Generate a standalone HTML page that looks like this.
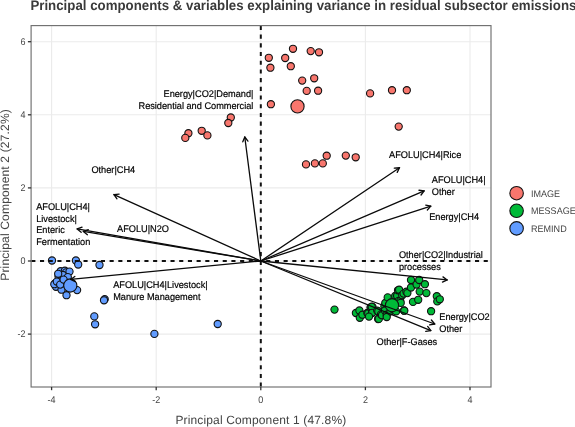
<!DOCTYPE html><html><head><meta charset="utf-8"><style>
html,body{margin:0;padding:0;background:#fff;}
body{width:575px;height:427px;overflow:hidden;font-family:"Liberation Sans",sans-serif;}
svg{display:block;text-rendering:geometricPrecision;will-change:transform;}
</style></head><body>
<svg width="575" height="427" viewBox="0 0 575 427" font-family="Liberation Sans, sans-serif">
<rect x="0" y="0" width="575" height="427" fill="#fff"/>
<g stroke="#ebebeb" stroke-width="1.1" fill="none">
<line x1="51.6" y1="25.6" x2="51.6" y2="387.0"/>
<line x1="156.2" y1="25.6" x2="156.2" y2="387.0"/>
<line x1="365.4" y1="25.6" x2="365.4" y2="387.0"/>
<line x1="470.0" y1="25.6" x2="470.0" y2="387.0"/>
<line x1="31.1" y1="41.7" x2="491.0" y2="41.7"/>
<line x1="31.1" y1="114.8" x2="491.0" y2="114.8"/>
<line x1="31.1" y1="187.9" x2="491.0" y2="187.9"/>
<line x1="31.1" y1="334.1" x2="491.0" y2="334.1"/>
<line x1="260.8" y1="25.6" x2="260.8" y2="387.0"/>
<line x1="31.1" y1="261.0" x2="491.0" y2="261.0"/>
</g>
<g fill="#619CFF" stroke="#111" stroke-width="1.1"><circle cx="52.0" cy="260.5" r="3.6" fill="#619CFF"/><circle cx="75.9" cy="260.5" r="3.6" fill="#619CFF"/><circle cx="78.2" cy="264.5" r="3.6" fill="#619CFF"/><circle cx="99.5" cy="265.0" r="3.6" fill="#619CFF"/><circle cx="60.6" cy="271.2" r="3.6" fill="#619CFF"/><circle cx="64.9" cy="270.7" r="3.6" fill="#619CFF"/><circle cx="66.1" cy="272.4" r="3.6" fill="#619CFF"/><circle cx="69.5" cy="271.6" r="3.6" fill="#619CFF"/><circle cx="58.5" cy="276.2" r="3.6" fill="#619CFF"/><circle cx="62.8" cy="275.0" r="3.6" fill="#619CFF"/><circle cx="67.8" cy="277.1" r="3.6" fill="#619CFF"/><circle cx="55.6" cy="283.0" r="3.6" fill="#619CFF"/><circle cx="56.0" cy="286.8" r="3.6" fill="#619CFF"/><circle cx="61.5" cy="289.7" r="3.6" fill="#619CFF"/><circle cx="66.5" cy="295.2" r="3.6" fill="#619CFF"/><circle cx="77.1" cy="290.1" r="3.6" fill="#619CFF"/><circle cx="61.1" cy="281.3" r="3.6" fill="#619CFF"/><circle cx="54.3" cy="284.2" r="3.6" fill="#619CFF"/><circle cx="56.8" cy="281.6" r="3.6" fill="#619CFF"/><circle cx="60.2" cy="284.6" r="3.6" fill="#619CFF"/><circle cx="63.6" cy="279.6" r="3.6" fill="#619CFF"/><circle cx="58.2" cy="273.8" r="3.6" fill="#619CFF"/><circle cx="104.7" cy="299.2" r="3.6" fill="#619CFF"/><circle cx="104.0" cy="300.3" r="3.6" fill="#619CFF"/><circle cx="94.3" cy="316.4" r="3.6" fill="#619CFF"/><circle cx="95.1" cy="324.3" r="3.6" fill="#619CFF"/><circle cx="154.4" cy="333.9" r="3.6" fill="#619CFF"/><circle cx="217.7" cy="324.0" r="3.6" fill="#619CFF"/></g>
<g fill="#619CFF" stroke="#111" stroke-width="1.1"><circle cx="70.3" cy="285.5" r="6.6" fill="#619CFF"/></g>
<g fill="#F8766D" stroke="#111" stroke-width="1.1"><circle cx="293.0" cy="48.8" r="3.6" fill="#F8766D"/><circle cx="310.7" cy="51.1" r="3.6" fill="#F8766D"/><circle cx="319.0" cy="52.3" r="3.6" fill="#F8766D"/><circle cx="268.8" cy="57.8" r="3.6" fill="#F8766D"/><circle cx="285.2" cy="58.0" r="3.6" fill="#F8766D"/><circle cx="270.4" cy="67.7" r="3.6" fill="#F8766D"/><circle cx="290.8" cy="66.2" r="3.6" fill="#F8766D"/><circle cx="302.2" cy="80.6" r="3.6" fill="#F8766D"/><circle cx="314.2" cy="78.3" r="3.6" fill="#F8766D"/><circle cx="306.7" cy="90.9" r="3.6" fill="#F8766D"/><circle cx="318.1" cy="90.7" r="3.6" fill="#F8766D"/><circle cx="270.9" cy="104.2" r="3.6" fill="#F8766D"/><circle cx="370.1" cy="93.4" r="3.6" fill="#F8766D"/><circle cx="392.0" cy="90.2" r="3.6" fill="#F8766D"/><circle cx="406.8" cy="90.2" r="3.6" fill="#F8766D"/><circle cx="398.7" cy="126.6" r="3.6" fill="#F8766D"/><circle cx="306.0" cy="164.4" r="3.6" fill="#F8766D"/><circle cx="314.9" cy="163.4" r="3.6" fill="#F8766D"/><circle cx="322.8" cy="163.4" r="3.6" fill="#F8766D"/><circle cx="326.7" cy="155.7" r="3.6" fill="#F8766D"/><circle cx="345.8" cy="155.6" r="3.6" fill="#F8766D"/><circle cx="355.7" cy="157.3" r="3.6" fill="#F8766D"/><circle cx="188.4" cy="133.2" r="3.6" fill="#F8766D"/><circle cx="185.3" cy="137.9" r="3.6" fill="#F8766D"/><circle cx="201.7" cy="130.8" r="3.6" fill="#F8766D"/><circle cx="207.4" cy="135.4" r="3.6" fill="#F8766D"/><circle cx="230.8" cy="117.5" r="3.6" fill="#F8766D"/><circle cx="228.3" cy="123.0" r="3.6" fill="#F8766D"/></g>
<g fill="#F8766D" stroke="#111" stroke-width="1.1"><circle cx="297.5" cy="106.4" r="6.6" fill="#F8766D"/></g>
<g fill="#00BA38" stroke="#111" stroke-width="1.1"><circle cx="334.5" cy="309.6" r="3.6" fill="#00BA38"/><circle cx="355.9" cy="313.0" r="3.6" fill="#00BA38"/><circle cx="359.4" cy="310.5" r="3.6" fill="#00BA38"/><circle cx="359.8" cy="317.8" r="3.6" fill="#00BA38"/><circle cx="362.4" cy="314.7" r="3.6" fill="#00BA38"/><circle cx="367.3" cy="313.0" r="3.6" fill="#00BA38"/><circle cx="368.2" cy="313.2" r="3.6" fill="#00BA38"/><circle cx="370.5" cy="307.5" r="3.6" fill="#00BA38"/><circle cx="371.5" cy="308.3" r="3.6" fill="#00BA38"/><circle cx="372.5" cy="306.9" r="3.6" fill="#00BA38"/><circle cx="372.0" cy="313.0" r="3.6" fill="#00BA38"/><circle cx="371.7" cy="306.7" r="3.6" fill="#00BA38"/><circle cx="372.2" cy="312.8" r="3.6" fill="#00BA38"/><circle cx="377.2" cy="310.6" r="3.6" fill="#00BA38"/><circle cx="378.1" cy="319.0" r="3.6" fill="#00BA38"/><circle cx="378.3" cy="311.4" r="3.6" fill="#00BA38"/><circle cx="378.8" cy="318.9" r="3.6" fill="#00BA38"/><circle cx="381.0" cy="314.4" r="3.6" fill="#00BA38"/><circle cx="369.0" cy="316.6" r="3.6" fill="#00BA38"/><circle cx="382.0" cy="315.2" r="3.6" fill="#00BA38"/><circle cx="384.4" cy="306.3" r="3.6" fill="#00BA38"/><circle cx="384.9" cy="310.5" r="3.6" fill="#00BA38"/><circle cx="385.3" cy="303.0" r="3.6" fill="#00BA38"/><circle cx="386.7" cy="314.7" r="3.6" fill="#00BA38"/><circle cx="386.7" cy="317.0" r="3.6" fill="#00BA38"/><circle cx="387.7" cy="297.4" r="3.6" fill="#00BA38"/><circle cx="390.5" cy="311.4" r="3.6" fill="#00BA38"/><circle cx="393.3" cy="309.5" r="3.6" fill="#00BA38"/><circle cx="395.2" cy="296.0" r="3.6" fill="#00BA38"/><circle cx="396.1" cy="311.4" r="3.6" fill="#00BA38"/><circle cx="397.1" cy="295.7" r="3.6" fill="#00BA38"/><circle cx="398.0" cy="290.3" r="3.6" fill="#00BA38"/><circle cx="398.6" cy="300.9" r="3.6" fill="#00BA38"/><circle cx="399.1" cy="289.7" r="3.6" fill="#00BA38"/><circle cx="400.3" cy="301.1" r="3.6" fill="#00BA38"/><circle cx="400.7" cy="302.9" r="3.6" fill="#00BA38"/><circle cx="402.2" cy="295.2" r="3.6" fill="#00BA38"/><circle cx="403.6" cy="293.6" r="3.6" fill="#00BA38"/><circle cx="404.0" cy="310.5" r="3.6" fill="#00BA38"/><circle cx="404.3" cy="310.7" r="3.6" fill="#00BA38"/><circle cx="406.4" cy="291.7" r="3.6" fill="#00BA38"/><circle cx="407.4" cy="293.1" r="3.6" fill="#00BA38"/><circle cx="411.0" cy="280.0" r="3.6" fill="#00BA38"/><circle cx="411.0" cy="287.5" r="3.6" fill="#00BA38"/><circle cx="413.0" cy="301.9" r="3.6" fill="#00BA38"/><circle cx="416.6" cy="284.6" r="3.6" fill="#00BA38"/><circle cx="418.2" cy="299.8" r="3.6" fill="#00BA38"/><circle cx="419.2" cy="280.0" r="3.6" fill="#00BA38"/><circle cx="419.7" cy="291.6" r="3.6" fill="#00BA38"/><circle cx="424.9" cy="284.2" r="3.6" fill="#00BA38"/><circle cx="426.4" cy="293.1" r="3.6" fill="#00BA38"/><circle cx="431.1" cy="311.2" r="3.6" fill="#00BA38"/><circle cx="436.8" cy="296.2" r="3.6" fill="#00BA38"/><circle cx="437.3" cy="301.4" r="3.6" fill="#00BA38"/><circle cx="439.8" cy="299.3" r="3.6" fill="#00BA38"/></g>
<g fill="#00BA38" stroke="#111" stroke-width="1.1"><circle cx="392.0" cy="305.2" r="6.6" fill="#00BA38"/></g>
<g stroke="#111" stroke-width="2.0" stroke-dasharray="4.1,4.6" fill="none">
<line x1="260.8" y1="25.6" x2="260.8" y2="387.0" stroke-dashoffset="-0.30"/>
<line x1="31.1" y1="261.0" x2="491.0" y2="261.0" stroke-dashoffset="-0.20"/>
</g>
<g stroke="#0a0a0a" stroke-width="1.3" stroke-linecap="round" stroke-linejoin="round" fill="none">
<line x1="260.8" y1="261.0" x2="244.78" y2="137.0"/><polyline points="247.94,141.13 244.78,137.0 242.78,141.80" fill="none"/>
<line x1="260.8" y1="261.0" x2="113.95" y2="194.55"/><polyline points="119.12,194.04 113.95,194.55 116.98,198.78" fill="none"/>
<line x1="260.8" y1="261.0" x2="77.19" y2="228.9"/><polyline points="82.07,227.11 77.19,228.9 81.18,232.24" fill="none"/>
<line x1="260.8" y1="261.0" x2="83.39" y2="231.4"/><polyline points="88.26,229.58 83.39,231.4 87.40,234.71" fill="none"/>
<line x1="260.8" y1="261.0" x2="70.6" y2="279.44"/><polyline points="74.83,276.42 70.6,279.44 75.33,281.59" fill="none"/>
<line x1="260.8" y1="261.0" x2="399.5" y2="167.73"/><polyline points="397.21,172.40 399.5,167.73 394.31,168.09" fill="none"/>
<line x1="260.8" y1="261.0" x2="424.15" y2="190.84"/><polyline points="421.04,195.01 424.15,190.84 418.99,190.23" fill="none"/>
<line x1="260.8" y1="261.0" x2="430.83" y2="206.18"/><polyline points="427.34,210.04 430.83,206.18 425.75,205.09" fill="none"/>
<line x1="260.8" y1="261.0" x2="447.2" y2="279.94"/><polyline points="442.46,282.07 447.2,279.94 442.98,276.90" fill="none"/>
<line x1="260.8" y1="261.0" x2="434.74" y2="324.0"/><polyline points="429.62,324.91 434.74,324.0 431.39,320.02" fill="none"/>
<line x1="260.8" y1="261.0" x2="430.84" y2="330.57"/><polyline points="425.69,331.27 430.84,330.57 427.66,326.46" fill="none"/>
</g>
<g font-size="9.2" fill="#000" stroke="#000" stroke-width="0.18" transform="translate(0,-0.15)">
<text transform="translate(253.4,97.2) scale(1,1.05)" text-anchor="end">Energy|CO2|Demand|</text>
<text transform="translate(253.4,108.9) scale(1,1.05)" text-anchor="end">Residential and Commercial</text>
<text transform="translate(91.4,173.5) scale(1,1.05)" text-anchor="start">Other|CH4</text>
<text transform="translate(36.2,209.9) scale(1,1.05)" text-anchor="start">AFOLU|CH4|</text>
<text transform="translate(36.2,221.9) scale(1,1.05)" text-anchor="start">Livestock|</text>
<text transform="translate(36.2,233.1) scale(1,1.05)" text-anchor="start">Enteric</text>
<text transform="translate(36.2,244.7) scale(1,1.05)" text-anchor="start">Fermentation</text>
<text transform="translate(117.1,232.1) scale(1,1.05)" text-anchor="start">AFOLU|N2O</text>
<text transform="translate(113.2,288.3) scale(1,1.05)" text-anchor="start">AFOLU|CH4|Livestock|</text>
<text transform="translate(113.2,299.7) scale(1,1.05)" text-anchor="start">Manure Management</text>
<text transform="translate(389.1,158.4) scale(1,1.05)" text-anchor="start">AFOLU|CH4|Rice</text>
<text transform="translate(431.8,183.4) scale(1,1.05)" text-anchor="start">AFOLU|CH4|</text>
<text transform="translate(431.8,195.2) scale(1,1.05)" text-anchor="start">Other</text>
<text transform="translate(429.2,219.9) scale(1,1.05)" text-anchor="start">Energy|CH4</text>
<text transform="translate(398.9,258.2) scale(1,1.05)" text-anchor="start">Other|CO2|Industrial</text>
<text transform="translate(398.9,269.8) scale(1,1.05)" text-anchor="start">processes</text>
<text transform="translate(439.3,320.3) scale(1,1.05)" text-anchor="start">Energy|CO2</text>
<text transform="translate(439.3,332.4) scale(1,1.05)" text-anchor="start">Other</text>
<text transform="translate(376.5,345.1) scale(1,1.05)" text-anchor="start">Other|F-Gases</text>
</g>
<rect x="31.1" y="25.6" width="459.9" height="361.4" fill="none" stroke="#707070" stroke-width="1.15"/>
<g stroke="#333" stroke-width="1.3">
<line x1="27.9" y1="41.7" x2="31.1" y2="41.7"/>
<line x1="27.9" y1="114.8" x2="31.1" y2="114.8"/>
<line x1="27.9" y1="187.9" x2="31.1" y2="187.9"/>
<line x1="27.9" y1="261.0" x2="31.1" y2="261.0"/>
<line x1="27.9" y1="334.1" x2="31.1" y2="334.1"/>
<line x1="51.6" y1="387.0" x2="51.6" y2="390.2"/>
<line x1="156.2" y1="387.0" x2="156.2" y2="390.2"/>
<line x1="260.8" y1="387.0" x2="260.8" y2="390.2"/>
<line x1="365.4" y1="387.0" x2="365.4" y2="390.2"/>
<line x1="470.0" y1="387.0" x2="470.0" y2="390.2"/>
</g>
<g font-size="9.0" fill="#444">
<text transform="translate(25.4,45.0) scale(1,1.08)" text-anchor="end">6</text>
<text transform="translate(25.4,118.1) scale(1,1.08)" text-anchor="end">4</text>
<text transform="translate(25.4,191.2) scale(1,1.08)" text-anchor="end">2</text>
<text transform="translate(25.4,264.3) scale(1,1.08)" text-anchor="end">0</text>
<text transform="translate(25.4,337.4) scale(1,1.08)" text-anchor="end">-2</text>
<text transform="translate(51.6,403.0) scale(1,1.08)" text-anchor="middle">-4</text>
<text transform="translate(156.2,403.0) scale(1,1.08)" text-anchor="middle">-2</text>
<text transform="translate(260.8,403.0) scale(1,1.08)" text-anchor="middle">0</text>
<text transform="translate(365.4,403.0) scale(1,1.08)" text-anchor="middle">2</text>
<text transform="translate(470.0,403.0) scale(1,1.08)" text-anchor="middle">4</text>
</g>
<text x="260.8" y="424.1" font-size="12.0" fill="#444" text-anchor="middle" textLength="170.8">Principal Component 1 (47.8%)</text>
<text transform="translate(9.2,195.0) rotate(-90)" x="0" y="0" font-size="12.05" fill="#444" text-anchor="middle" textLength="171.6">Principal Component 2 (27.2%)</text>
<text transform="translate(30.4,9.6) scale(1,1.04)" font-size="13.3" font-weight="bold" fill="#3a3a3a" textLength="546" lengthAdjust="spacingAndGlyphs">Principal components &amp; variables explaining variance in residual subsector emissions</text>
<circle cx="516.6" cy="193.2" r="6.75" fill="#F8766D" stroke="#111" stroke-width="1.1"/>
<text transform="translate(531.0,196.7) scale(1,1.06)" font-size="9.05" fill="#444">IMAGE</text>
<circle cx="516.6" cy="210.8" r="6.75" fill="#00BA38" stroke="#111" stroke-width="1.1"/>
<text transform="translate(531.0,214.3) scale(1,1.06)" font-size="9.05" fill="#444">MESSAGE</text>
<circle cx="516.6" cy="228.4" r="6.75" fill="#619CFF" stroke="#111" stroke-width="1.1"/>
<text transform="translate(531.0,231.9) scale(1,1.06)" font-size="9.05" fill="#444">REMIND</text>
</svg></body></html>
